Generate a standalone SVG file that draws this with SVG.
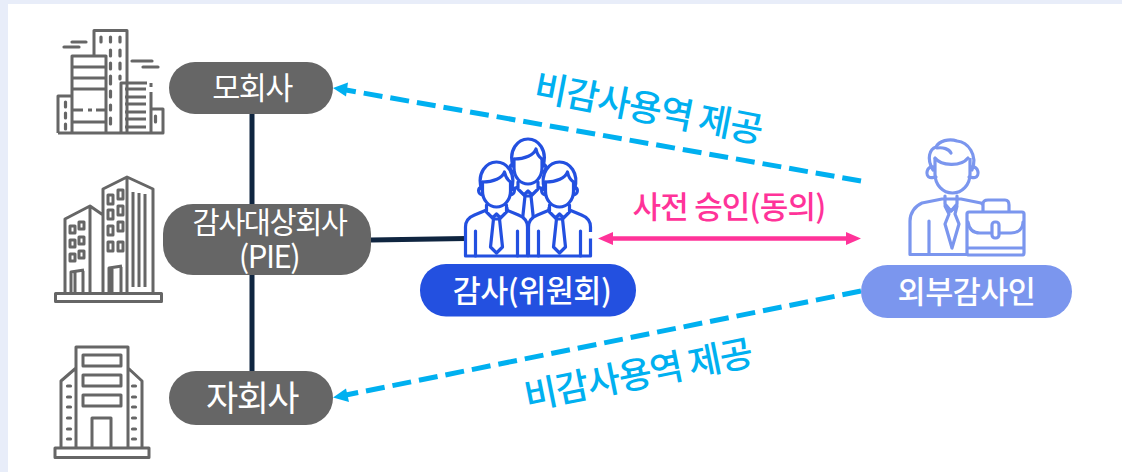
<svg xmlns="http://www.w3.org/2000/svg" width="1122" height="472" viewBox="0 0 1122 472">
<style>
text{font-family:"Noto Sans CJK KR","Noto Sans",sans-serif;text-anchor:middle}
.w{fill:#fff}
.g{fill:none;stroke:#666;stroke-width:3;stroke-linejoin:round}
.gw{fill:none;stroke:#666;stroke-width:3.200;stroke-linecap:round}
.b{fill:#fff;stroke:#2350e0;stroke-width:3.200;stroke-linejoin:round;stroke-linecap:round}
.bn{fill:none;stroke:#2350e0;stroke-width:3.200;stroke-linejoin:round;stroke-linecap:round}
.p{fill:none;stroke:#7b96ee;stroke-width:3.200;stroke-linejoin:round;stroke-linecap:round}
.pf{fill:#fff;stroke:#7b96ee;stroke-width:3.200;stroke-linejoin:round}
.navy{stroke:#0f2540;stroke-width:5;fill:none}
.dash{stroke:#00b0f0;stroke-width:5;fill:none;stroke-dasharray:19 8}
.lab{fill:#00b0f0;font-size:36px;font-weight:500;letter-spacing:-1.100px}
</style>
<defs>
<g id="person">
<path class="b" d="M-31,69 V40 C-31,33 -27,30 -22,28 L-10,23 H10 L22,28 C27,30 31,33 31,40 V69 Z"/>
<path class="bn" d="M-21,69 V44 M21,69 V44"/>
<path class="b" d="M-10,18 V25 L-4,31 L0,27 L4,31 L10,25 V18"/>
<path class="b" d="M-3,32 H3 L6,60 L0,66 L-6,60 Z"/>
<path class="b" d="M-14,-5 V4 C-14,14 -7,20 0,20 C7,20 14,14 14,4 V-5"/>
<path class="bn" d="M-14,-5 C-3,-5 6,-9 8,-15 C9,-10 11,-7 14,-5"/>
<path class="bn" d="M-15,2 C-20,-14 -10,-25 0,-25 C10,-25 20,-14 15,2"/>
<path class="bn" d="M-15,0 C-19,1 -19,7 -14,8 M15,0 C19,1 19,7 14,8"/>
</g>
</defs>
<rect width="1122" height="472" fill="#e8edf9"/>
<rect x="8" y="4" width="1114" height="468" fill="#fff"/>

<g id="connectors">
<path class="navy" d="M252,114 V204 M252,275 V371 M371,240 L466,238.500"/>
<path class="dash" d="M861,181 L346,90"/>
<path d="M333,88 L348,82.500 L346,96.500 Z" fill="#00b0f0"/>
<path class="dash" d="M861,291 L346,395"/>
<path d="M333,397.500 L346,388.500 L349,402 Z" fill="#00b0f0"/>
<path d="M610,238.500 H849" stroke="#ff3399" stroke-width="4.500" fill="none"/>
<path d="M598,238.500 L613,232 V245 Z M861,238.500 L846,232 V245 Z" fill="#ff3399"/>
<text class="lab" transform="translate(646,121) rotate(11)">비감사용역 제공</text>
<text class="lab" transform="translate(640.500,387) rotate(-11.300)">비감사용역 제공</text>
<text x="729" y="218" fill="#ff3399" font-size="31" font-weight="500" letter-spacing="-0.800">사전 승인(동의)</text>
</g>

<g id="icon-parent">
<path class="g" d="M94,55 V30.500 H127 V133"/>
<path class="g" d="M72,133 V56 H106 V133 M72,67 H106 M72,78 H106 M72,89 H106 M72,122 H106"/>
<path class="g" d="M73,110 H83 M88,110 H92 M96,110 H105"/>
<path class="g" d="M58,133 V96 H72 M58,133 H163 V109 H151 M151,133 V92 M147,83 H121 V133 M151,83 V87"/>
<path class="g" d="M125,89 H146 M125,97 H146 M125,104 H146 M125,112 H146 M125,119 H146 M125,127 H146"/>
<path class="gw" d="M101,37 V42 M110.500,37 V42 M120,37 V42 M110.500,50 V56 M120,50 V56 M110.500,63 V69 M120,63 V69 M110.500,76 V84 M120,76 V79 M110.500,91 V97 M110.500,105 V110 M110.500,118 V124 M65.500,102 V107 M65.500,113 V118 M65.500,124 V129 M155.500,116 V122"/>
<path class="gw" d="M72,42 H86 M64,47 H79 M132,61 H152 M143,67 H158"/>
</g>
<g id="icon-pie">
<rect class="g" x="55.500" y="293.500" width="106" height="8"/>
<path class="g" d="M103,294 V189 L127,177 L153,189 V294 M127,177 V294 M65,294 V219 L90,206 L103,215 M90,206 V294"/>
<path class="g" d="M133,192 V287 M139,193 V287 M145,194 V287"/>
<path class="g" d="M108,195 h5 v9 h-5z M118,190 h5 v9 h-5z M108,210 h5 v9 h-5z M118,206 h5 v9 h-5z M108,226 h5 v9 h-5z M118,222 h5 v9 h-5z M108,242 h5 v9 h-5z M118,242 h5 v9 h-5z"/>
<path class="g" d="M70,226 h5 v7 h-5z M79,222 h5 v7 h-5z M70,240 h5 v7 h-5z M79,237 h5 v7 h-5z M70,254 h5 v7 h-5z M79,251 h5 v7 h-5z"/>
<path class="g" d="M71,294 V272 L84,270 M75,272 V294 M109,294 V268 L122,266 M112,268 V294 M83,271 V294 M121,267 V294"/>
</g>
<g id="icon-sub">
<rect class="g" x="55" y="448" width="94" height="9.500"/>
<path class="g" d="M76,448 V347 H128 V448 M76,368 L61,381 V448 M128,368 L142,381 V448"/>
<rect class="g" x="83" y="355" width="38" height="11"/>
<rect class="g" x="83" y="375" width="38" height="11"/>
<rect class="g" x="83" y="395" width="38" height="11"/>
<path class="g" d="M92,447 V418 H111 V447"/>
<path class="gw" d="M67.500,386 H70.500 M67.500,397 H70.500 M67.500,407 H70.500 M67.500,418 H70.500 M67.500,429 H70.500 M67.500,439 H70.500 M132.500,386 H135.500 M132.500,397 H135.500 M132.500,407 H135.500 M132.500,418 H135.500 M132.500,429 H135.500 M132.500,439 H135.500"/>
</g>

<g id="node-parent">
<rect x="169" y="62" width="164" height="52" rx="26" fill="#666"/>
<text class="w" x="252" y="99" font-size="30.500" font-weight="400" letter-spacing="-1.500">모회사</text>
</g>
<g id="node-pie">
<rect x="163" y="204" width="208" height="71" rx="30" fill="#666"/>
<text class="w" x="269.500" y="233" font-size="29.500" font-weight="400" letter-spacing="-1.500">감사대상회사</text>
<text class="w" x="269" y="268" font-size="31" font-weight="400" letter-spacing="-1.500">(PIE)</text>
</g>
<g id="node-sub">
<rect x="169" y="371" width="164" height="54" rx="27" fill="#666"/>
<text class="w" x="252" y="411" font-size="35" font-weight="400" letter-spacing="-1.500">자회사</text>
</g>

<g id="icon-committee">
<use href="#person" x="528" y="164"/>
<use href="#person" x="496.500" y="187"/>
<use href="#person" x="559.500" y="187"/>
<rect x="588" y="232" width="6" height="6.500" fill="#fff"/>
</g>
<g id="node-committee">
<rect x="420" y="264" width="216" height="52.500" rx="26" fill="#2350e0"/>
<text class="w" x="532" y="302" font-size="30.500" font-weight="500" letter-spacing="-0.500">감사(위원회)</text>
</g>

<g id="icon-auditor">
<path class="pf" d="M910,254.500 V221 C910,213 915,206 922,203 L942,199 H961 L981,203 L990,210 V254.500 Z"/>
<path class="p" d="M929,254 V221"/>
<path class="p" d="M945,196 V204 L951,211 L957,204 V196"/>
<path class="p" d="M945,206 L951,211 L957,206 L955,214 L959,224 L952,248 L945,224 L949,214 Z"/>
<path class="pf" d="M935,158 V174 C935,185 943,193 952.500,193 C962,193 970,185 970,174 V158"/>
<path class="p" d="M935,158 C941,166 961,167 968,158"/>
<path class="p" d="M933,170 C926,158 930,149 936,147 C939,141 949,138 957,141 C968,142 978,155 972,170"/>
<path class="p" d="M934,167 C926,166 925,176 930,177.500 C932,178 934,177 936,177 M971,167 C979,166 980,176 975,177.500 C973,178 971,177 969,177"/>
<path class="p" d="M937,148 C943,147 949,149 951,153"/>
<path class="pf" d="M983,212 V204 C983,201 985,200 988,200 H1005 C1008,200 1009,202 1009,205 V212"/>
<rect class="pf" x="967" y="212" width="57" height="43" rx="2"/>
<path class="p" d="M968,222 C969,229 973,233 980,233 H1011 C1018,233 1023,229 1023,222"/>
<rect class="pf" x="992" y="222" width="7" height="16" rx="3"/>
<path class="p" d="M968,248 H1023"/>
</g>
<g id="node-auditor">
<rect x="861" y="265" width="211" height="53" rx="26.500" fill="#7b96ee"/>
<text class="w" x="966.500" y="303" font-size="30.500" font-weight="500" letter-spacing="-0.500">외부감사인</text>
</g>
</svg>
